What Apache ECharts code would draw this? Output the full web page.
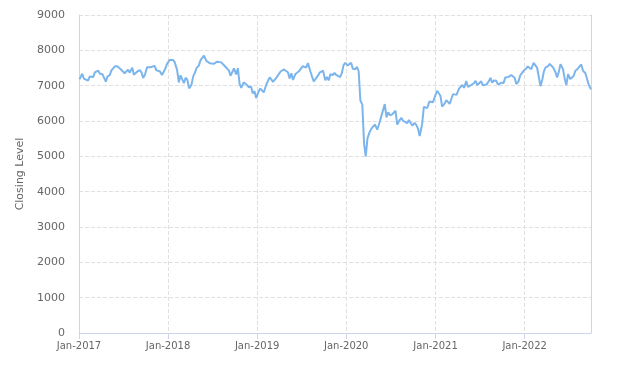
<!DOCTYPE html>
<html>
<head>
<meta charset="utf-8">
<script src="https://cdn.jsdelivr.net/npm/echarts@6/dist/echarts.min.js"></script>
<style>html,body{margin:0;padding:0;background:#fff;}#c{width:631px;height:366px;}</style>
</head>
<body>
<div id="c"></div>
<script>
// Weekly closing levels (sampled on days 7,14,21,28 of each month)
const weekDays = [7, 14, 21, 28];
const y2017 = [7210,7337,7198,7184, 7140,7258,7299,7243, 7374,7343,7425,7336, 7322,7349,7114,7264,
               7298,7435,7470,7547, 7548,7527,7464,7424, 7350,7378,7453,7368, 7511,7309,7324,7401,
               7438,7377,7215,7310, 7522,7535,7523,7505, 7560,7433,7380,7409, 7300,7394,7490,7620];
const y2018 = [7724,7778,7730,7665, 7443,7092,7294,7244, 7069,7224,7164,6922, 7030,7264,7368,7502,
               7567,7724,7779,7850, 7701,7681,7633,7682, 7617,7661,7678,7701, 7659,7667,7558,7577,
               7432,7281,7304,7490, 7318,7496,7049,6940, 7094,7105,7014,6952, 6980,6778,6845,6650];
const y2019 = [6837,6918,6968,6809, 7020,7071,7236,7178, 7106,7130,7228,7279, 7401,7437,7459,7428,
               7380,7203,7348,7161, 7331,7345,7407,7425, 7553,7505,7508,7640, 7407,7254,7117,7128,
               7282,7367,7345,7426, 7155,7247,7150,7324, 7302,7359,7302,7326, 7240,7353,7582,7644];
const y2020 = [7575,7622,7650,7480, 7466,7534,7400,6580, 6462,5366,5000,5510, 5704,5791,5787,5900,
               5753,5900,6067,6076, 6480,6105,6245,6159, 6189,6179,6290,5897, 6026,6090,6001,6000,
               5937,6026,6007,5866, 5946,5889,5786,5577, 5910,6400,6385,6367, 6555,6531,6529,6502];
const y2021 = [6857,6801,6715,6407, 6489,6589,6624,6483, 6630,6761,6708,6740, 6916,6890,7019,6938,
               7130,6963,7018,7022, 7069,7134,7018,7072, 7123,7008,6968,7032, 7120,7218,7087,7148,
               7138,7027,7051,7086, 7078,7234,7204,7249, 7303,7348,7223,7044, 7122,7291,7297,7420];
const y2022 = [7485,7543,7585,7466, 7644,7661,7513,7458, 6987,7159,7404,7516, 7552,7616,7628,7510,
               7387,7233,7390,7608, 7476,7205,7016,7323, 7189,7159,7276,7423, 7482,7501,7600,7427,
               7351,7385,7019,7018];
const years = [2017, 2018, 2019, 2020, 2021, 2022];
const yearValues = [y2017, y2018, y2019, y2020, y2021, y2022];
const startPoint = ['2017-01-03', 7177];
const endPoint = ['2022-09-30', 6894];
const yTicks = [0,1000,2000,3000,4000,5000,6000,7000,8000,9000];

const pad = n => (n < 10 ? '0' : '') + n;
const seriesData = [startPoint];
years.forEach((yr, yi) => {
  yearValues[yi].forEach((v, i) => {
    const m = Math.floor(i / 4) + 1;
    const d = weekDays[i % 4];
    seriesData.push([yr + '-' + pad(m) + '-' + pad(d), v]);
  });
});
seriesData.push(endPoint);

const font = 'DejaVu Sans, sans-serif';
const chart = echarts.init(document.getElementById('c'));
chart.setOption({
  animation: false,
  grid: { left: 79, right: 40, top: 15, bottom: 33 },
  xAxis: {
    type: 'time',
    min: '2017-01-01',
    max: '2022-09-30',
    minInterval: 365 * 24 * 3600 * 1000,
    maxInterval: 366 * 24 * 3600 * 1000,
    axisLine: { lineStyle: { color: '#ccd6eb' } },
    axisTick: { show: true, length: 6, lineStyle: { color: '#ccd6eb' } },
    splitLine: { show: true, lineStyle: { color: '#e0e0e0', type: 'dashed' } },
    axisLabel: {
      color: '#666', fontSize: 10, fontFamily: font, margin: 8,
      showMaxLabel: false,
      formatter: function (val) { const d = new Date(val); return 'Jan-' + d.getFullYear(); }
    }
  },
  yAxis: [{
    type: 'value',
    min: 0, max: 9000, interval: 1000,
    name: 'Closing Level',
    nameLocation: 'middle',
    nameGap: 48,
    nameTextStyle: { color: '#666', fontSize: 11, fontFamily: font },
    axisLine: { show: true, lineStyle: { color: '#ccd6eb' } },
    axisTick: { show: false },
    splitLine: { show: true, lineStyle: { color: '#e0e0e0', type: 'dashed' } },
    axisLabel: { color: '#666', fontSize: 11, fontFamily: font, margin: 14,
      formatter: v => String(yTicks[yTicks.indexOf(v)]) }
  }, {
    type: 'value', position: 'right', min: 0, max: 9000, interval: 1000,
    axisLine: { show: true, lineStyle: { color: '#ccd6eb' } },
    axisTick: { show: false }, axisLabel: { show: false }, splitLine: { show: false }
  }],
  series: [{
    type: 'line',
    data: seriesData,
    showSymbol: false,
    symbol: 'none',
    lineStyle: { color: '#7cb5ec', width: 2 },
    itemStyle: { color: '#7cb5ec' }
  }]
});
</script>
</body>
</html>
